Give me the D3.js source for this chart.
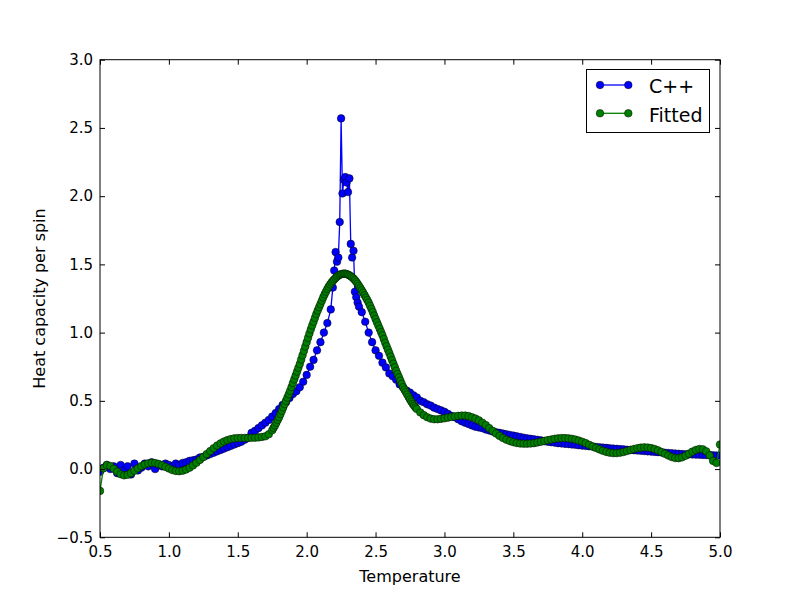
<!DOCTYPE html>
<html>
<head>
<meta charset="utf-8">
<title>Heat capacity per spin</title>
<style>
    body { margin: 0; background: #fff; }
    svg { display: block; font-family: "DejaVu Sans", sans-serif; }
    .axis text { font-family: "DejaVu Sans", sans-serif; font-size: 15px; fill: #000; }
    .axis line { stroke: #000; stroke-width: 1; }
    .axis path { display: none; }
    .frame { fill: none; stroke: #000; stroke-width: 1; }
    .label { font-size: 16px; fill: #000; }
    .legend text { font-size: 19px; fill: #000; }
</style>
</head>
<body>
<div id="chart"></div>
<script src="https://cdnjs.cloudflare.com/ajax/libs/d3/7.8.5/d3.min.js"></script>
<script>
    // tick labels
    var xTicks = [0.5, 1.0, 1.5, 2.0, 2.5, 3.0, 3.5, 4.0, 4.5, 5.0];
    var yTicks = [-0.5, 0.0, 0.5, 1.0, 1.5, 2.0, 2.5, 3.0];
    var seriesNames = ['C++', 'Fitted'];

    // C++ simulation, coarse part 0.5 .. 2.175, step 0.025
    var cppLowStart = 0.5, cppLowStep = 0.025;
    var cppLow = [
        -0.02, 0.01, 0.03, 0.00, 0.02, -0.03, 0.03, -0.01, 0.02, -0.04,
        0.04, -0.01, 0.01, 0.04, 0.02, 0.05, 0.00, 0.03, 0.02, 0.04,
        0.03, 0.02, 0.04, 0.03, 0.045, 0.05, 0.06, 0.065, 0.07, 0.085,
        0.09, 0.10, 0.11, 0.12, 0.13, 0.14, 0.15, 0.16, 0.17, 0.18,
        0.19, 0.20, 0.215, 0.23, 0.265, 0.28, 0.30, 0.32, 0.34, 0.36,
        0.385, 0.41, 0.44, 0.47, 0.49, 0.52, 0.55, 0.57, 0.60, 0.64,
        0.69, 0.75, 0.80, 0.87, 0.93, 1.00, 1.07, 1.17
    ];
    // C++ simulation around the critical point, 2.19 .. 2.38, step 0.01
    var cppSpikeStart = 2.19, cppSpikeStep = 0.01;
    var cppSpike = [
        1.33, 1.455, 1.59, 1.52, 1.55, 1.81, 2.57, 2.02, 2.12, 2.14,
        2.10, 2.03, 2.13, 1.65, 1.55, 1.60, 1.30, 1.26, 1.22, 1.19
    ];
    // C++ simulation, coarse part 2.4 .. 5.0, step 0.025
    var cppHighStart = 2.4, cppHighStep = 0.025;
    var cppHigh = [
        1.15, 1.08, 1.00, 0.93, 0.87, 0.83, 0.78, 0.745, 0.70, 0.68,
        0.655, 0.62, 0.60, 0.575, 0.56, 0.54, 0.525, 0.50, 0.49, 0.475,
        0.465, 0.45, 0.44, 0.43, 0.42, 0.405, 0.39, 0.38, 0.365, 0.35,
        0.34, 0.33, 0.32, 0.31, 0.305, 0.30, 0.29, 0.283, 0.275, 0.27,
        0.265, 0.26, 0.255, 0.25, 0.245, 0.24, 0.235, 0.23, 0.225, 0.222,
        0.218, 0.214, 0.21, 0.205, 0.20, 0.197, 0.194, 0.19, 0.188, 0.185,
        0.183, 0.18, 0.178, 0.175, 0.172, 0.17, 0.167, 0.165, 0.162, 0.16,
        0.157, 0.155, 0.152, 0.15, 0.148, 0.146, 0.144, 0.142, 0.14, 0.138,
        0.136, 0.134, 0.132, 0.13, 0.128, 0.126, 0.124, 0.122, 0.12, 0.118,
        0.116, 0.114, 0.112, 0.11, 0.109, 0.108, 0.107, 0.106, 0.105, 0.104,
        0.103, 0.102, 0.101, 0.10, 0.10
    ];

    // fitted curve, 0.5 .. 1.725, step 0.025
    var fitLowStart = 0.5, fitLowStep = 0.025;
    var fitLow = [
        -0.16, 0.005, 0.03, 0.022, 0.002, -0.02, -0.038, -0.046, -0.042, -0.03,
        -0.012, 0.006, 0.022, 0.034, 0.042, 0.046, 0.044, 0.038, 0.028, 0.016,
        0.004, -0.007, -0.014, -0.016, -0.012, -0.003, 0.01, 0.027, 0.046, 0.067,
        0.088, 0.11, 0.132, 0.153, 0.172, 0.188, 0.202, 0.212, 0.22, 0.225,
        0.227, 0.228, 0.228, 0.228, 0.229, 0.23, 0.232, 0.235, 0.24, 0.255
    ];
    // fitted curve over the peak, 1.75 .. 2.80, step 0.01
    var fitPeakStart = 1.75, fitPeakStep = 0.01;
    var fitPeak = [
        0.285, 0.302, 0.32, 0.34, 0.36, 0.38, 0.403, 0.427, 0.452, 0.476,
        0.50, 0.524, 0.548, 0.573, 0.601, 0.63, 0.658, 0.686, 0.714, 0.742,
        0.77, 0.802, 0.834, 0.866, 0.898, 0.93, 0.962, 0.994, 1.024, 1.052,
        1.08, 1.108, 1.136, 1.162, 1.186, 1.21, 1.234, 1.258, 1.28, 1.30,
        1.32, 1.337, 1.353, 1.367, 1.379, 1.39, 1.40, 1.41, 1.418, 1.424,
        1.428, 1.431, 1.432, 1.432, 1.429, 1.425, 1.42, 1.413, 1.405, 1.396,
        1.385, 1.372, 1.358, 1.342, 1.326, 1.31, 1.293, 1.275, 1.257, 1.239,
        1.22, 1.197, 1.174, 1.15, 1.125, 1.10, 1.076, 1.052, 1.028, 1.004,
        0.98, 0.953, 0.926, 0.90, 0.875, 0.85, 0.824, 0.798, 0.772, 0.746,
        0.72, 0.696, 0.672, 0.648, 0.624, 0.60, 0.582, 0.564, 0.546, 0.528,
        0.51, 0.494, 0.478, 0.464, 0.451, 0.44
    ];
    // fitted curve, 2.825 .. 5.0, step 0.025
    var fitHighStart = 2.825, fitHighStep = 0.025;
    var fitHigh = [
        0.415, 0.395, 0.38, 0.37, 0.365, 0.365, 0.368,
        0.372, 0.377, 0.382, 0.386, 0.39, 0.392, 0.392, 0.388, 0.38, 0.37,
        0.357, 0.34, 0.322, 0.30, 0.28, 0.26, 0.243, 0.228, 0.215, 0.205,
        0.197, 0.191, 0.187, 0.186, 0.186, 0.187, 0.19, 0.195, 0.20, 0.206,
        0.212, 0.217, 0.222, 0.225, 0.227, 0.227, 0.225, 0.222, 0.216, 0.209,
        0.20, 0.19, 0.178, 0.166, 0.155, 0.144, 0.134, 0.126, 0.12, 0.117,
        0.117, 0.12, 0.125, 0.132, 0.14, 0.147, 0.153, 0.157, 0.159, 0.158,
        0.154, 0.147, 0.137, 0.125, 0.112, 0.099, 0.088, 0.081, 0.08, 0.086,
        0.098, 0.113, 0.128, 0.14, 0.147, 0.145, 0.13, 0.10, 0.06, 0.045,
        0.18
    ];

    var width = 800, height = 597;
    var plotLeft = 100, plotRight = 720, plotTop = 59.7, plotBottom = 537.3;

    //pair every value with its temperature
    var toPoints = function (values, start, step) {
        return values.map(function (c, i) {
            return [start + i * step, c];
        });
    };
    var cppPoints = toPoints(cppLow, cppLowStart, cppLowStep)
            .concat(toPoints(cppSpike, cppSpikeStart, cppSpikeStep))
            .concat(toPoints(cppHigh, cppHighStart, cppHighStep));
    var fitPoints = toPoints(fitLow, fitLowStart, fitLowStep)
            .concat(toPoints(fitPeak, fitPeakStart, fitPeakStep))
            .concat(toPoints(fitHigh, fitHighStart, fitHighStep));

    var svg = d3.select('#chart').append('svg')
            .attr('width', width)
            .attr('height', height);

    var x = d3.scaleLinear().domain([0.5, 5.0]).range([plotLeft, plotRight]);
    var y = d3.scaleLinear().domain([-0.5, 3.0]).range([plotBottom, plotTop]);
    var fmt = d3.format('.1f');

    svg.append('clipPath').attr('id', 'plot-clip')
            .append('rect')
            .attr('x', plotLeft).attr('y', plotTop)
            .attr('width', plotRight - plotLeft).attr('height', plotBottom - plotTop);

    var series = [
        {name: seriesNames[0], points: cppPoints, color: '#0000ff'},
        {name: seriesNames[1], points: fitPoints, color: '#008000'}
    ];

    var line = d3.line()
            .x(function (d) { return x(d[0]); })
            .y(function (d) { return y(d[1]); });

    var gPlot = svg.append('g').attr('clip-path', 'url(#plot-clip)');

    series.forEach(function (s) {
        var g = gPlot.append('g');
        g.append('path')
                .datum(s.points)
                .attr('d', line)
                .attr('fill', 'none')
                .attr('stroke', s.color)
                .attr('stroke-width', 1.3);
        g.selectAll('circle')
                .data(s.points)
                .enter()
                .append('circle')
                .attr('cx', function (d) { return x(d[0]); })
                .attr('cy', function (d) { return y(d[1]); })
                .attr('r', 3.8)
                .attr('fill', s.color)
                .attr('stroke', '#000')
                .attr('stroke-width', 0.5);
    });

    // ticks point inwards on all four sides, like matplotlib classic
    svg.append('g').attr('class', 'axis')
            .attr('transform', 'translate(0,' + plotBottom + ')')
            .call(d3.axisBottom(x).tickValues(xTicks).tickFormat(fmt).tickSize(-5).tickPadding(9));
    svg.append('g').attr('class', 'axis')
            .attr('transform', 'translate(0,' + plotTop + ')')
            .call(d3.axisTop(x).tickValues(xTicks).tickFormat('').tickSize(-5));
    svg.append('g').attr('class', 'axis')
            .attr('transform', 'translate(' + plotLeft + ',0)')
            .call(d3.axisLeft(y).tickValues(yTicks).tickFormat(fmt).tickSize(-5).tickPadding(7));
    svg.append('g').attr('class', 'axis')
            .attr('transform', 'translate(' + plotRight + ',0)')
            .call(d3.axisRight(y).tickValues(yTicks).tickFormat('').tickSize(-5));

    svg.append('rect').attr('class', 'frame')
            .attr('x', plotLeft).attr('y', plotTop)
            .attr('width', plotRight - plotLeft).attr('height', plotBottom - plotTop);

    svg.append('text').attr('class', 'label')
            .attr('x', (plotLeft + plotRight) / 2)
            .attr('y', 581.5)
            .attr('text-anchor', 'middle')
            .text('Temperature');
    svg.append('text').attr('class', 'label')
            .attr('transform', 'translate(45,' + (plotTop + plotBottom) / 2 + ') rotate(-90)')
            .attr('text-anchor', 'middle')
            .text('Heat capacity per spin');

    // legend
    var gLegend = svg.append('g').attr('class', 'legend');
    gLegend.append('rect')
            .attr('x', 586.5).attr('y', 69.5)
            .attr('width', 123).attr('height', 63)
            .attr('fill', '#fff').attr('stroke', '#000').attr('stroke-width', 1);
    series.forEach(function (s, i) {
        var ly = 85 + i * 28.3;
        var g = gLegend.append('g');
        g.append('line')
                .attr('x1', 600).attr('x2', 628.3)
                .attr('y1', ly).attr('y2', ly)
                .attr('stroke', s.color).attr('stroke-width', 1.3);
        g.selectAll('circle')
                .data([600, 628.3])
                .enter()
                .append('circle')
                .attr('cx', function (d) { return d; })
                .attr('cy', ly)
                .attr('r', 3.8)
                .attr('fill', s.color)
                .attr('stroke', '#000')
                .attr('stroke-width', 0.5);
        g.append('text')
                .attr('x', 649)
                .attr('y', ly + 8.2)
                .text(s.name);
    });
</script>
</body>
</html>
